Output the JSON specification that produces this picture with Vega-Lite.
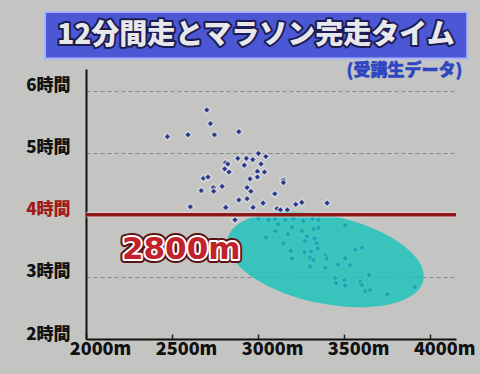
{
  "$schema": "https://vega.github.io/schema/vega-lite/v6.json",
  "autosize": "none",
  "width": 370,
  "height": 270,
  "padding": {"left": 86, "top": 69, "right": 24, "bottom": 35},
  "background": "#c4c4c2",
  "config": {"view": {"stroke": null}},
  "layer": [
    {
      "data": {"values": [{}]},
      "mark": {"type": "rect", "fill": "#4b57d4", "stroke": "#a8b4ff", "strokeWidth": 2},
      "encoding": {
        "x": {"datum": 1762, "type": "quantitative", "scale": {"domain": [2000, 4150], "nice": false, "zero": false}},
        "x2": {"datum": 4215},
        "y": {"datum": 7.27, "type": "quantitative", "scale": {"domain": [2, 6.35], "nice": false, "zero": false}},
        "y2": {"datum": 6.52}
      }
    },
    {
      "data": {"values": [{"label": "12分間走とマラソン完走タイム"}]},
      "mark": {"type": "text", "font": "Noto Sans CJK JP", "fontWeight": 900, "fontSize": 28, "align": "center", "baseline": "middle", "fill": "#1c1c50", "stroke": "#1c1c50", "strokeWidth": 4, "strokeJoin": "round"},
      "encoding": {"x": {"datum": 2988, "type": "quantitative"}, "y": {"datum": 6.88, "type": "quantitative"}, "text": {"field": "label"}}
    },
    {
      "data": {"values": [{"label": "12分間走とマラソン完走タイム"}]},
      "mark": {"type": "text", "font": "Noto Sans CJK JP", "fontWeight": 900, "fontSize": 28, "align": "center", "baseline": "middle", "fill": "#e8e8ec"},
      "encoding": {"x": {"datum": 2988, "type": "quantitative"}, "y": {"datum": 6.88, "type": "quantitative"}, "text": {"field": "label"}}
    },
    {
      "data": {"values": [{"label": "(受講生データ)"}]},
      "mark": {"type": "text", "font": "Noto Sans CJK JP", "fontWeight": 900, "fontSize": 17, "align": "right", "baseline": "middle", "fill": "#2d45c4", "stroke": "#2d45c4", "strokeWidth": 0.5},
      "encoding": {"x": {"datum": 4186, "type": "quantitative"}, "y": {"datum": 6.31, "type": "quantitative"}, "text": {"field": "label"}}
    },
    {
      "data": {"values": [
        {"d": 2702, "t": 5.69}, {"d": 2723, "t": 5.47}, {"d": 2473, "t": 5.26}, {"d": 2593, "t": 5.29},
        {"d": 2746, "t": 5.29}, {"d": 2888, "t": 5.34}, {"d": 3002, "t": 4.99}, {"d": 3045, "t": 4.94},
        {"d": 2882, "t": 4.91}, {"d": 2932, "t": 4.91}, {"d": 2969, "t": 4.89}, {"d": 2810, "t": 4.84},
        {"d": 2824, "t": 4.82}, {"d": 2920, "t": 4.80}, {"d": 3017, "t": 4.82}, {"d": 2806, "t": 4.74},
        {"d": 2831, "t": 4.69}, {"d": 2996, "t": 4.70}, {"d": 3037, "t": 4.69}, {"d": 2996, "t": 4.61},
        {"d": 2953, "t": 4.58}, {"d": 2682, "t": 4.59}, {"d": 2709, "t": 4.61}, {"d": 3147, "t": 4.56},
        {"d": 3147, "t": 4.52}, {"d": 2791, "t": 4.46}, {"d": 2670, "t": 4.39}, {"d": 2740, "t": 4.44},
        {"d": 2742, "t": 4.38}, {"d": 2936, "t": 4.44}, {"d": 2958, "t": 4.38}, {"d": 3097, "t": 4.34},
        {"d": 2888, "t": 4.24}, {"d": 2936, "t": 4.26}, {"d": 3029, "t": 4.19}, {"d": 2606, "t": 4.13},
        {"d": 2812, "t": 4.12}, {"d": 2971, "t": 4.12}, {"d": 3219, "t": 4.17}, {"d": 3254, "t": 4.20},
        {"d": 3401, "t": 4.19}, {"d": 3110, "t": 4.10}, {"d": 3130, "t": 4.08}, {"d": 3170, "t": 4.08},
        {"d": 2866, "t": 3.92}, {"d": 3002, "t": 3.94}, {"d": 3060, "t": 3.92}, {"d": 3099, "t": 3.94},
        {"d": 3118, "t": 3.85}, {"d": 3157, "t": 3.92}, {"d": 3205, "t": 3.94}, {"d": 3263, "t": 3.90},
        {"d": 3316, "t": 3.94}, {"d": 3351, "t": 3.92}, {"d": 3506, "t": 3.83}, {"d": 3099, "t": 3.74},
        {"d": 3196, "t": 3.80}, {"d": 3254, "t": 3.74}, {"d": 3322, "t": 3.77}, {"d": 3351, "t": 3.79},
        {"d": 3047, "t": 3.64}, {"d": 3173, "t": 3.69}, {"d": 3283, "t": 3.65}, {"d": 3327, "t": 3.62},
        {"d": 3147, "t": 3.54}, {"d": 3273, "t": 3.58}, {"d": 3341, "t": 3.54}, {"d": 3190, "t": 3.42},
        {"d": 3269, "t": 3.40}, {"d": 3308, "t": 3.41}, {"d": 3347, "t": 3.46}, {"d": 3196, "t": 3.30},
        {"d": 3302, "t": 3.31}, {"d": 3322, "t": 3.27}, {"d": 3394, "t": 3.35}, {"d": 3399, "t": 3.30},
        {"d": 3564, "t": 3.44}, {"d": 3603, "t": 3.47}, {"d": 3302, "t": 3.17}, {"d": 3390, "t": 3.15},
        {"d": 3463, "t": 3.20}, {"d": 3506, "t": 3.30}, {"d": 3535, "t": 3.19}, {"d": 3448, "t": 2.98},
        {"d": 3452, "t": 2.90}, {"d": 3502, "t": 2.95}, {"d": 3506, "t": 2.86}, {"d": 3593, "t": 2.92},
        {"d": 3603, "t": 2.87}, {"d": 3645, "t": 3.03}, {"d": 3622, "t": 2.77}, {"d": 3651, "t": 2.79},
        {"d": 3752, "t": 2.72}, {"d": 3909, "t": 2.84}
      ]},
      "mark": {"type": "point", "shape": "diamond", "filled": true, "size": 45, "fill": "#263485", "stroke": "#ffffff", "strokeWidth": 1.5, "strokeOpacity": 0.55, "opacity": 1},
      "encoding": {
        "x": {"field": "d", "type": "quantitative",
          "axis": {"values": [2000, 2500, 3000, 3500, 4000], "labelExpr": "datum.value + 'm'", "title": null, "grid": false,
            "domainColor": "#111", "domainWidth": 2, "tickSize": -5, "tickColor": "#222", "tickWidth": 1.5,
            "labelFont": "Noto Sans CJK JP", "labelFontWeight": 900, "labelFontSize": 18, "labelColor": "#111",
            "labelPadding": 6, "labelOffset": 14, "labelFlush": false}},
        "y": {"field": "t", "type": "quantitative",
          "axis": {"values": [2, 3, 4, 5, 6], "labelExpr": "datum.value + '時間'", "title": null,
            "grid": true, "gridColor": "#7c7c7c", "gridDash": [4, 3], "gridWidth": 1, "gridOpacity": 0.8,
            "domainColor": "#111", "domainWidth": 2, "tickSize": 0,
            "labelFont": "Noto Sans CJK JP", "labelFontWeight": 900, "labelFontSize": 17,
            "labelColor": {"condition": {"test": "datum.value == 4", "value": "#a01a1a"}, "value": "#111"},
            "labelPadding": 16, "labelOffset": -5, "labelFlush": false}}
      }
    },
    {
      "data": {"values": [{}]},
      "mark": {"type": "point", "shape": "M -1 0 C -1 -0.243 -0.552 -0.44 0 -0.44 C 0.552 -0.44 1 -0.243 1 0 C 1 0.243 0.552 0.44 0 0.44 C -0.552 0.44 -1 0.243 -1 0 Z",
        "filled": true, "size": 40000, "angle": 12, "fill": "#16c3bc", "opacity": 0.8, "strokeWidth": 0},
      "encoding": {"x": {"datum": 3392, "type": "quantitative"}, "y": {"datum": 3.28, "type": "quantitative"}}
    },
    {
      "data": {"values": [{}]},
      "mark": {"type": "rule", "color": "#f4e4e4", "strokeWidth": 6, "opacity": 0.5},
      "encoding": {"y": {"datum": 4, "type": "quantitative"}}
    },
    {
      "data": {"values": [{}]},
      "mark": {"type": "rule", "color": "#8e1717", "strokeWidth": 3.5},
      "encoding": {"y": {"datum": 4, "type": "quantitative"}}
    },
    {
      "data": {"values": [{"label": "2800m"}]},
      "mark": {"type": "text", "font": "DejaVu Sans", "fontWeight": "bold", "fontSize": 31, "align": "left", "baseline": "middle", "fill": "#5a1212", "stroke": "#5a1212", "strokeWidth": 8, "strokeJoin": "round"},
      "encoding": {"x": {"datum": 2209, "type": "quantitative"}, "y": {"datum": 3.435, "type": "quantitative"}, "text": {"field": "label"}}
    },
    {
      "data": {"values": [{"label": "2800m"}]},
      "mark": {"type": "text", "font": "DejaVu Sans", "fontWeight": "bold", "fontSize": 31, "align": "left", "baseline": "middle", "fill": "#ffffff", "stroke": "#ffffff", "strokeWidth": 4, "strokeJoin": "round"},
      "encoding": {"x": {"datum": 2209, "type": "quantitative"}, "y": {"datum": 3.435, "type": "quantitative"}, "text": {"field": "label"}}
    },
    {
      "data": {"values": [{"label": "2800m"}]},
      "mark": {"type": "text", "font": "DejaVu Sans", "fontWeight": "bold", "fontSize": 31, "align": "left", "baseline": "middle", "fill": "#c4222a"},
      "encoding": {"x": {"datum": 2209, "type": "quantitative"}, "y": {"datum": 3.435, "type": "quantitative"}, "text": {"field": "label"}}
    }
  ]
}
